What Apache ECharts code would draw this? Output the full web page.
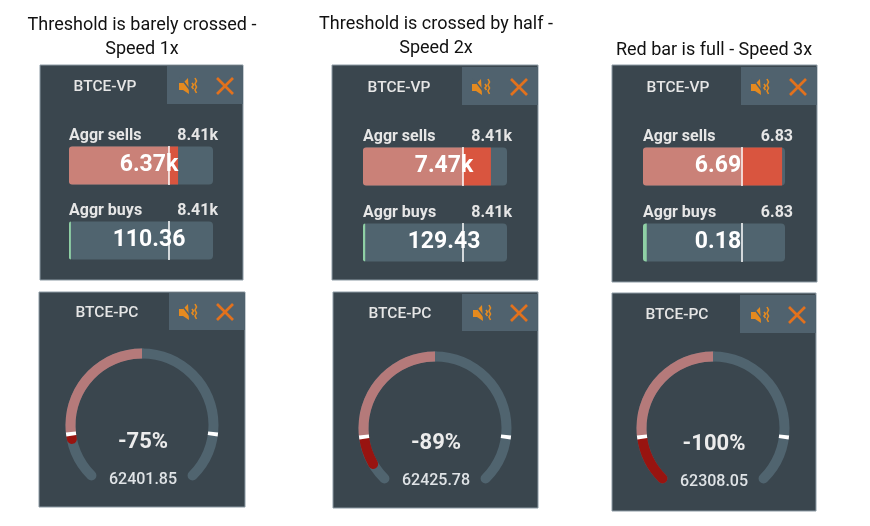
<!DOCTYPE html>
<html>
<head>
<meta charset="utf-8">
<title>Speed thresholds</title>
<script src="https://cdn.jsdelivr.net/npm/echarts@6/dist/echarts.min.js"></script>
<style>
html, body { margin: 0; padding: 0; background: #fff; }
#main { width: 870px; height: 526px; }
</style>
</head>
<body>
<div id="main"></div>
<script>
// values
var captions = [
    ['Threshold is barely crossed -', 'Speed 1x'],
    ['Threshold is crossed by half -', 'Speed 2x'],
    ['Red bar is full - Speed 3x']
];
var barMax = [8410, 8410, 6.83];
var barThreshold = [5840, 5840, 4.74];
var sellValues = [6370, 7470, 6.69];
var buyValues = [110.36, 129.43, 0.18];
var sellLabels = ['6.37k', '7.47k', '6.69'];
var buyLabels = ['110.36', '129.43', '0.18'];
var maxLabels = ['8.41k', '8.41k', '6.83'];

var pcValues = [-75, -89, -100];
var pcThreshold = 72;
var pcPrices = ['62401.85', '62425.78', '62308.05'];

// layout
var capX = [142, 436, 714];
var capY = [[25, 49], [24, 48], [50]];
var vpPanel = [[40, 65, 203, 215], [332, 65, 206, 215], [612, 65, 205, 217]];
var vpHead = [[167, 66, 76, 38], [462, 67, 76, 38], [741, 67, 76, 38]];
var vpTitleX = [105, 399, 678];
var vpMuteX = [187, 480, 759];
var vpCloseX = [225, 519, 798];
var vpIconY = [86, 87, 87];
var barX = [[69, 144], [363, 144], [643, 142]];
var sellTop = [146, 147, 147];
var buyTop = [221, 223, 223];
var maxRight = [218, 512, 793];
var valueX = [149, 444, 718];

var pcPanel = [[39, 292, 206, 215], [333, 292, 205, 216], [612, 293, 204, 218]];
var pcHead = [[169, 293, 76, 37], [462, 294, 76, 37], [740, 295, 76, 38]];
var pcTitleX = [107, 400, 677];
var pcTitleY = [313, 314, 315];
var pcMuteX = [187, 481, 759];
var pcCloseX = [225, 519, 797];
var pcIconY = [312, 313, 315];
var pcCenter = [[142, 425], [435, 428], [713, 428]];
var pcPctY = [442, 443, 444];
var pcPriceY = [480, 481, 482];

var FONT = 'Roboto, sans-serif';
var ORANGE = '#e2711d';
var HEAD = '#50626e';
var TRACK = '#50646f';

var grid = [], xAxis = [], yAxis = [], series = [], graphic = [];
var polar = [], angleAxis = [], radiusAxis = [];

function text(str, x, y, size, color, weight, align) {
    graphic.push({
        type: 'text', z: 100, silent: true, x: x, y: y,
        style: {
            text: str, fill: color, font: (weight || 'normal') + ' ' + size + 'px ' + FONT,
            textAlign: align || 'center', textVerticalAlign: 'middle'
        }
    });
}

function box(r, fill, stroke) {
    graphic.push({
        type: 'rect', z: 0, silent: true,
        shape: { x: r[0], y: r[1], width: r[2], height: r[3] },
        style: { fill: fill, stroke: stroke || null, lineWidth: 1 }
    });
}

function icons(muteX, closeX, y) {
    var line = { stroke: ORANGE, lineWidth: 2.6, fill: null };
    graphic.push({
        type: 'group', z: 50, x: closeX, y: y, silent: true,
        children: [
            { type: 'line', shape: { x1: -8, y1: -8, x2: 8, y2: 8 }, style: line },
            { type: 'line', shape: { x1: 8, y1: -8, x2: -8, y2: 8 }, style: line }
        ]
    });
    graphic.push({
        type: 'group', z: 50, x: muteX, y: y, silent: true,
        children: [
            { type: 'polygon', shape: { points: [[-8, -3], [-4, -3], [1, -8], [2, 8], [-4, 4], [-8, 4]] }, style: { fill: '#e58a1f' } },
            { type: 'line', z: 1, shape: { x1: -7, y1: -9, x2: 3, y2: 4 }, style: { stroke: HEAD, lineWidth: 1.4 } },
            { type: 'polyline', shape: { points: [[5, -3], [6.5, -1], [5, 1], [6.5, 3]] }, style: { stroke: '#e58a1f', lineWidth: 1.6, fill: null } },
            { type: 'polyline', shape: { points: [[8, -8], [9.5, -5], [8, -2], [9.5, 1], [8, 4], [9.5, 7]] }, style: { stroke: '#e58a1f', lineWidth: 1.6, fill: null } }
        ]
    });
}

function addBar(i, top, pieces, threshold) {
    var g = grid.length;
    grid.push({ left: barX[i][0], top: top, width: barX[i][1], height: 39 });
    xAxis.push({ type: 'value', gridIndex: g, min: 0, max: barMax[i], show: false });
    yAxis.push({ type: 'category', gridIndex: g, data: ['v'], show: false });
    var common = { type: 'bar', xAxisIndex: g, yAxisIndex: g, barWidth: 38, barGap: '-100%', silent: true };
    series.push(Object.assign({}, common, {
        stack: 'track' + g, data: [barMax[i]],
        itemStyle: { color: TRACK, borderRadius: 4 }
    }));
    pieces.forEach(function (p, k) {
        series.push(Object.assign({}, common, {
            stack: 'fill' + g, data: [p.value],
            itemStyle: { color: p.color, borderRadius: k === 0 ? [3, 0, 0, 3] : 0 }
        }));
    });
    series[series.length - 1].markLine = {
        silent: true, symbol: 'none', animation: false, z: 10,
        label: { show: false },
        lineStyle: { color: '#fff', width: 1.5, type: 'solid' },
        data: [{ xAxis: threshold }]
    };
}

// one polar per layer: stacks inside a polar share its band, so they can't overlap
function addLayer(center, arcs) {
    var p = polar.length;
    polar.push({ center: center, radius: [66.5, 76.5] });
    angleAxis.push({ polarIndex: p, type: 'value', min: -100, max: 100, startAngle: 225, endAngle: -45, show: false });
    radiusAxis.push({ polarIndex: p, type: 'category', data: ['v'], show: false });
    arcs.forEach(function (a) {
        series.push({
            type: 'bar', coordinateSystem: 'polar', polarIndex: p, stack: 'layer' + p, data: [a.value],
            barWidth: 10, roundCap: !!a.cap, silent: true, z: a.z,
            itemStyle: { color: a.color }
        });
    });
}

function addGauge(i) {
    var c = pcCenter[i];
    var v = pcValues[i];
    addLayer(c, [
        { value: -100, color: TRACK, z: 2, cap: true },
        { value: 100, color: TRACK, z: 2, cap: true }
    ]);
    // red part sits under the pale part so its round start is hidden
    addLayer(c, [
        { value: -pcThreshold, color: '#b57a7a', z: 4 },
        { value: v + pcThreshold, color: '#981410', z: 3, cap: true }
    ]);
    addLayer(c, [
        { value: -(pcThreshold - 1.1), color: 'transparent', z: 5 },
        { value: -2.2, color: '#ffffff', z: 5 },
        { value: pcThreshold - 1.1, color: 'transparent', z: 5 },
        { value: 2.2, color: '#ffffff', z: 5 }
    ]);
}

captions.forEach(function (lines, i) {
    lines.forEach(function (t, k) { text(t, capX[i], capY[i][k], 18, '#111'); });

    box(vpPanel[i], '#3a464e', '#8c9aa4');
    box(vpHead[i], HEAD);
    text('BTCE-VP', vpTitleX[i], vpIconY[i] + 1, 15.5, '#e6e6e6', 500);
    icons(vpMuteX[i], vpCloseX[i], vpIconY[i]);

    text('Aggr sells', barX[i][0], sellTop[i] - 10, 16, '#e6e6e6', 'bold', 'left');
    text('Aggr buys', barX[i][0], buyTop[i] - 10, 16, '#e6e6e6', 'bold', 'left');
    text(maxLabels[i], maxRight[i], sellTop[i] - 10, 16, '#e6e6e6', 'bold', 'right');
    text(maxLabels[i], maxRight[i], buyTop[i] - 10, 16, '#e6e6e6', 'bold', 'right');

    addBar(i, sellTop[i], [
        { value: barThreshold[i], color: '#ca8178' },
        { value: sellValues[i] - barThreshold[i], color: '#d9553f' }
    ], barThreshold[i]);
    addBar(i, buyTop[i], [{ value: buyValues[i], color: '#8fd0a5' }], barThreshold[i]);
    text(sellLabels[i], valueX[i], sellTop[i] + 19, 23, '#fff', 'bold');
    text(buyLabels[i], valueX[i], buyTop[i] + 19, 23, '#fff', 'bold');

    box(pcPanel[i], '#3a464e', '#8c9aa4');
    box(pcHead[i], HEAD);
    text('BTCE-PC', pcTitleX[i], pcTitleY[i], 15.5, '#e6e6e6', 500);
    icons(pcMuteX[i], pcCloseX[i], pcIconY[i]);
    addGauge(i);
    text(pcValues[i] + '%', pcCenter[i][0] + 1, pcPctY[i], 22, '#ececec', 'bold');
    text(pcPrices[i], pcCenter[i][0] + 1, pcPriceY[i], 16, '#dfe3e6', 500);
});

var myChart = echarts.init(document.getElementById('main'));
myChart.setOption({
    animation: false,
    backgroundColor: '#fff',
    graphic: { elements: graphic },
    grid: grid,
    xAxis: xAxis,
    yAxis: yAxis,
    polar: polar,
    angleAxis: angleAxis,
    radiusAxis: radiusAxis,
    series: series
});
</script>
</body>
</html>
